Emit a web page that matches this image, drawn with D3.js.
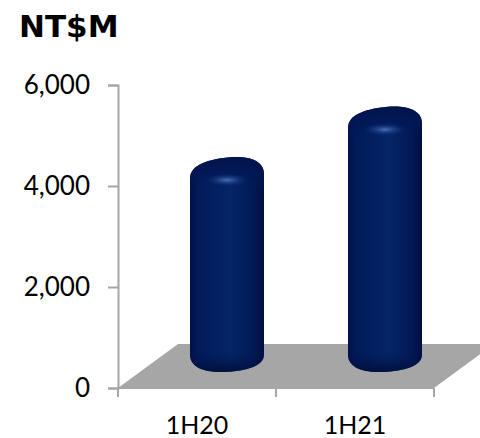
<!DOCTYPE html>
<html>
<head>
<meta charset="utf-8">
<script src="https://cdn.jsdelivr.net/npm/d3@7"></script>
<style>
  html, body { margin: 0; padding: 0; background: #fff; }
  svg { display: block; }
</style>
</head>
<body>
<svg id="chart"></svg>
<script>
const periods = ['1H20', '1H21'];
const revenue = [3860, 4860];
const yTicks = [0, 2000, 4000, 6000];
const unitLabel = 'NT$M';

const width = 480, height = 438;
const margin = { left: 118, right: 46, top: 85, bottom: 50 };

// depth of the fake 3d floor, bars stand halfway back on it
const floorDepth = 44, floorSkew = 60, barShiftY = 22, barShiftX = 30;

const svg = d3.select('#chart').attr('width', width).attr('height', height);
const defs = svg.append('defs');

const x = d3.scaleBand()
  .domain(periods)
  .range([margin.left, width - margin.right]);

const y = d3.scaleLinear()
  .domain([0, 6000])
  .range([height - margin.bottom, margin.top]);

const y0 = y(0);
const barW = 74;

// gradients for the cylinder look
const body = defs.append('linearGradient').attr('id', 'bodyGrad');
[[0, '#01104a'], [0.1, '#021a58'], [0.55, '#042568'], [0.85, '#021a56'], [1, '#010e40']]
  .forEach(s => body.append('stop').attr('offset', s[0]).attr('stop-color', s[1]));

const capShade = defs.append('linearGradient').attr('id', 'capGrad')
  .attr('x1', 0).attr('x2', 0).attr('y1', 0).attr('y2', 1);
[[0, '#011248', 1], [0.55, '#021655', 0.7], [1, '#021a58', 0]]
  .forEach(s => capShade.append('stop').attr('offset', s[0]).attr('stop-color', s[1]).attr('stop-opacity', s[2]));

const baseShade = defs.append('linearGradient').attr('id', 'baseGrad')
  .attr('x1', 0).attr('x2', 0).attr('y1', 0).attr('y2', 1);
[[0, '#01134a', 0], [1, '#010f3c', 1]]
  .forEach(s => baseShade.append('stop').attr('offset', s[0]).attr('stop-color', s[1]).attr('stop-opacity', s[2]));

const glow = defs.append('radialGradient').attr('id', 'glowGrad');
[[0, '#4a72b4', 1], [0.5, '#244892', 0.55], [1, '#0a2a70', 0]]
  .forEach(s => glow.append('stop').attr('offset', s[0]).attr('stop-color', s[1]).attr('stop-opacity', s[2]));

// floor, its far right corner runs off the page
const floor = d3.path();
floor.moveTo(margin.left, y0);
floor.lineTo(margin.left + floorSkew, y0 - floorDepth);
floor.lineTo(width - margin.right + floorSkew, y0 - floorDepth);
floor.lineTo(width - margin.right, y0);
floor.closePath();
svg.append('path').attr('d', floor.toString()).attr('fill', '#a6a6a6');

// axes
const yAxis = d3.axisLeft(y)
  .tickValues(yTicks)
  .tickFormat(d3.format(','))
  .tickSize(10)
  .tickPadding(18);

const xAxis = d3.axisBottom(x)
  .tickValues(periods)
  .tickSize(0)
  .tickPadding(28);

const gy = svg.append('g').attr('transform', `translate(${margin.left},0)`).call(yAxis);
const gx = svg.append('g').attr('transform', `translate(0,${y0})`).call(xAxis);

gx.selectAll('.tick line').remove();
// category separators sit on the band edges
gx.selectAll('line.sep')
  .data([...periods.map(p => x(p)), x.range()[1]])
  .join('line')
  .attr('class', 'sep')
  .attr('x1', d => d).attr('x2', d => d)
  .attr('y1', 0).attr('y2', 9);
gx.select('.domain').attr('d', `M${x.range()[0]},0H${x.range()[1]}`);

[gy, gx].forEach(g => {
  g.selectAll('.domain, line').attr('stroke', '#a6a6a6').attr('stroke-width', 2);
  g.selectAll('text')
    .attr('fill', '#000')
    .style('font-family', 'Lato, sans-serif')
    .style('font-size', g === gy ? '26px' : '25px');
});

// capsule outline, skewed a little to match the perspective of the cap
function barPath(v) {
  const l = x.bandwidth() / 2 - barW / 2 + barShiftX;
  const cy = y(v) - barShiftY;
  const by = y0 - barShiftY;
  const r = l + barW;
  return `M${l},${cy + 7}` +
    `C${l},${cy - 6} ${l + 18},${cy - 12} ${l + 42},${cy - 14}` +
    `C${l + 60},${cy - 15} ${r},${cy - 10} ${r},${cy + 3}` +
    `L${r},${by - 11}` +
    `C${r},${by + 1} ${l + 52},${by + 6} ${l + 30},${by + 6}` +
    `C${l + 12},${by + 6} ${l},${by} ${l},${by - 11}Z`;
}

const bars = svg.append('g').selectAll('g')
  .data(periods)
  .join('g')
  .attr('transform', d => `translate(${x(d)},0)`);

bars.each(function (d, i) {
  const g = d3.select(this);
  const v = revenue[i];
  const l = x.bandwidth() / 2 - barW / 2 + barShiftX;
  const cy = y(v) - barShiftY;
  const by = y0 - barShiftY;

  defs.append('clipPath').attr('id', 'clip' + i)
    .append('path').attr('d', barPath(v));

  g.append('path').attr('d', barPath(v)).attr('fill', 'url(#bodyGrad)');

  const inner = g.append('g').attr('clip-path', `url(#clip${i})`);
  // dark cap on top and darker bottom edge
  inner.append('rect')
    .attr('x', l).attr('width', barW)
    .attr('y', cy - 16).attr('height', 34)
    .attr('fill', 'url(#capGrad)');
  inner.append('rect')
    .attr('x', l).attr('width', barW)
    .attr('y', by - 14).attr('height', 21)
    .attr('fill', 'url(#baseGrad)');
  // small highlight on the cap
  inner.append('ellipse')
    .attr('cx', l + 37).attr('cy', cy + 9)
    .attr('rx', 22).attr('ry', 6.5)
    .attr('fill', 'url(#glowGrad)');
});

svg.append('text')
  .attr('x', 19)
  .attr('y', 37)
  .attr('fill', '#000')
  .style('font-family', '"DejaVu Sans", sans-serif')
  .style('font-weight', 'bold')
  .style('font-size', '31px')
  .text(unitLabel);
</script>
</body>
</html>
